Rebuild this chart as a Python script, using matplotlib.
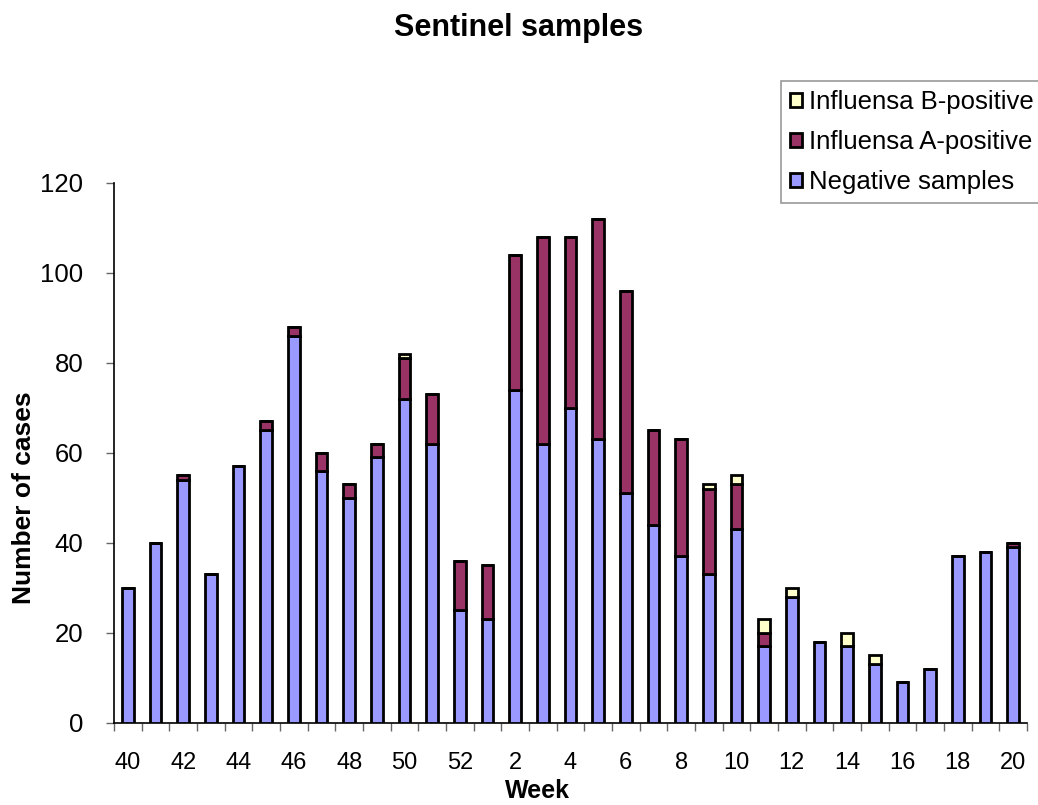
import numpy as np
import matplotlib.pyplot as plt
from matplotlib.patches import Patch

plt.rcParams['font.family'] = ['Liberation Sans', 'DejaVu Sans']

# data
weeks = [40, 41, 42, 43, 44, 45, 46, 47, 48, 49, 50, 51, 52,
         1, 2, 3, 4, 5, 6, 7, 8, 9, 10, 11, 12, 13, 14, 15, 16, 17, 18, 19, 20]
negative = [30, 40, 54, 33, 57, 65, 86, 56, 50, 59, 72, 62, 25,
            23, 74, 62, 70, 63, 51, 44, 37, 33, 43, 17, 28, 18, 17, 13, 9, 12, 37, 38, 39]
infl_a = [0, 0, 1, 0, 0, 2, 2, 4, 3, 3, 9, 11, 11,
          12, 30, 46, 38, 49, 45, 21, 26, 19, 10, 3, 0, 0, 0, 0, 0, 0, 0, 0, 1]
infl_b = [0, 0, 0, 0, 0, 0, 0, 0, 0, 0, 1, 0, 0,
          0, 0, 0, 0, 0, 0, 0, 0, 1, 2, 3, 2, 0, 3, 2, 0, 0, 0, 0, 0]

neg_col = '#9999FF'
a_col = '#993366'
b_col = '#FFFFCC'

fig = plt.figure(figsize=(10.38, 8.05), dpi=100)
ax = fig.add_axes([0.1098, 0.1019, 0.8796, 0.6708])

x = np.arange(len(weeks))
neg = np.array(negative)
a = np.array(infl_a)
b = np.array(infl_b)
w = 0.42
lw = 2.0
ax.bar(x, neg, w, color=neg_col, edgecolor='black', linewidth=lw, zorder=3)
ax.bar(x, a, w, bottom=neg, color=a_col, edgecolor='black', linewidth=lw, zorder=3)
ax.bar(x, b, w, bottom=neg + a, color=b_col, edgecolor='black', linewidth=lw, zorder=3)

ax.set_xlim(-0.5, len(weeks) - 0.5)
ax.set_ylim(0, 120)
ax.set_yticks(range(0, 121, 20))
ax.tick_params(axis='y', direction='out', length=6, width=1, color='#666666',
               labelsize=18.5, pad=16)

ax.set_xticks(x[::2])
ax.set_xticklabels([str(wk) for wk in weeks[::2]])
ax.set_xticks(np.arange(-0.5, len(weeks), 1), minor=True)
ax.tick_params(axis='x', which='major', length=0, labelsize=17, pad=21)
ax.tick_params(axis='x', which='minor', direction='out', length=6, width=1, color='#666666')

for s in ['top', 'right']:
    ax.spines[s].set_visible(False)
ax.spines['left'].set_linewidth(1.2)
ax.spines['bottom'].set_linewidth(1.2)

# axis titles sit off-centre in the original, place them by hand
ax.set_xlabel('Week', fontsize=18, fontweight='bold')
ax.xaxis.label.set_va('center')
ax.xaxis.set_label_coords(0.464, -0.126)
ax.set_ylabel('Number of cases', fontsize=19, fontweight='bold')
ax.yaxis.label.set_va('center')
ax.yaxis.set_label_coords(-0.0986, 0.417)

fig.text(0.5, 0.965, 'Sentinel samples', ha='center', va='center',
         fontsize=22, fontweight='bold')

handles = [Patch(facecolor=b_col, edgecolor='black', linewidth=2),
           Patch(facecolor=a_col, edgecolor='black', linewidth=2),
           Patch(facecolor=neg_col, edgecolor='black', linewidth=2)]
labels = ['Influensa B-positive', 'Influensa A-positive', 'Negative samples']
leg = fig.legend(handles, labels, loc='upper left', bbox_to_anchor=(0.752, 0.899),
                 fontsize=18.5, frameon=True, fancybox=False, handlelength=0.5,
                 handleheight=0.5, handletextpad=0.25, labelspacing=0.62,
                 borderpad=0.35, borderaxespad=0)
leg.get_frame().set_edgecolor('#808080')
leg.get_frame().set_linewidth(1.2)

fig.savefig('out.png', dpi=100)
